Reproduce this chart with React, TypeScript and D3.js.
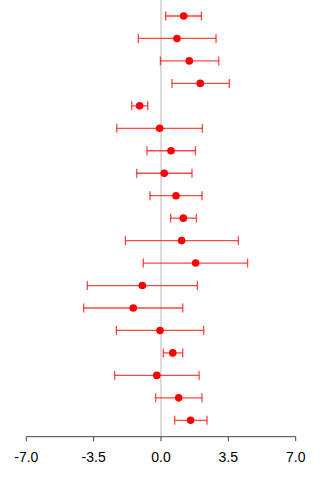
import React from "react";
import * as d3 from "d3";

// Point estimates with lower / upper interval bounds, top row first
const estimates = [1.18, 0.83, 1.47, 2.04, -1.11, -0.07, 0.52, 0.17, 0.78, 1.16, 1.07, 1.8, -0.97, -1.44, -0.05, 0.61, -0.22, 0.92, 1.54];
const lowerBounds = [0.24, -1.18, -0.03, 0.57, -1.52, -2.3, -0.73, -1.26, -0.57, 0.5, -1.85, -0.92, -3.83, -4.02, -2.32, 0.12, -2.41, -0.28, 0.71];
const upperBounds = [2.1, 2.86, 3.0, 3.55, -0.69, 2.15, 1.79, 1.61, 2.13, 1.84, 4.02, 4.5, 1.89, 1.13, 2.22, 1.13, 1.98, 2.13, 2.39];
const tickValues = [-7, -3.5, 0, 3.5, 7];

const W = 320;
const H = 480;

export default function App() {
  const x = d3.scaleLinear().domain([-7, 7]).range([26.3, 295.7]);
  const rows = d3.range(estimates.length);
  const y = d3.scalePoint<number>().domain(rows).range([16, 420.3]);
  const axisY = 436.7;
  const capHalf = 4.5;
  const lineColor = "rgba(255,0,0,0.72)";

  return (
    <svg
      width={W}
      height={H}
      style={{ position: "absolute", left: 0, top: 0, background: "#fff" }}
      fontFamily="'Liberation Sans', Arial, sans-serif"
    >
      <line x1={x(0)} x2={x(0)} y1={0} y2={axisY} stroke="#dcdcdc" strokeWidth={2} />
      {rows.map((i) => {
        const yy = y(i)!;
        const lo = x(lowerBounds[i]);
        const hi = x(upperBounds[i]);
        return (
          <g key={i}>
            <line x1={lo} x2={hi} y1={yy} y2={yy} stroke={lineColor} strokeWidth={1.3} />
            <line x1={lo} x2={lo} y1={yy - capHalf} y2={yy + capHalf} stroke={lineColor} strokeWidth={1.3} />
            <line x1={hi} x2={hi} y1={yy - capHalf} y2={yy + capHalf} stroke={lineColor} strokeWidth={1.3} />
            <circle cx={x(estimates[i])} cy={yy} r={3.8} fill="#ff0000" />
          </g>
        );
      })}
      <line x1={x(-7)} x2={x(7)} y1={axisY} y2={axisY} stroke="#444" strokeWidth={1} />
      {tickValues.map((t) => (
        <g key={t}>
          <line x1={x(t)} x2={x(t)} y1={axisY} y2={axisY + 4.5} stroke="#444" strokeWidth={1} />
          <text x={x(t)} y={462} textAnchor="middle" fontSize={14} fill="#000">
            {t.toFixed(1)}
          </text>
        </g>
      ))}
    </svg>
  );
}
